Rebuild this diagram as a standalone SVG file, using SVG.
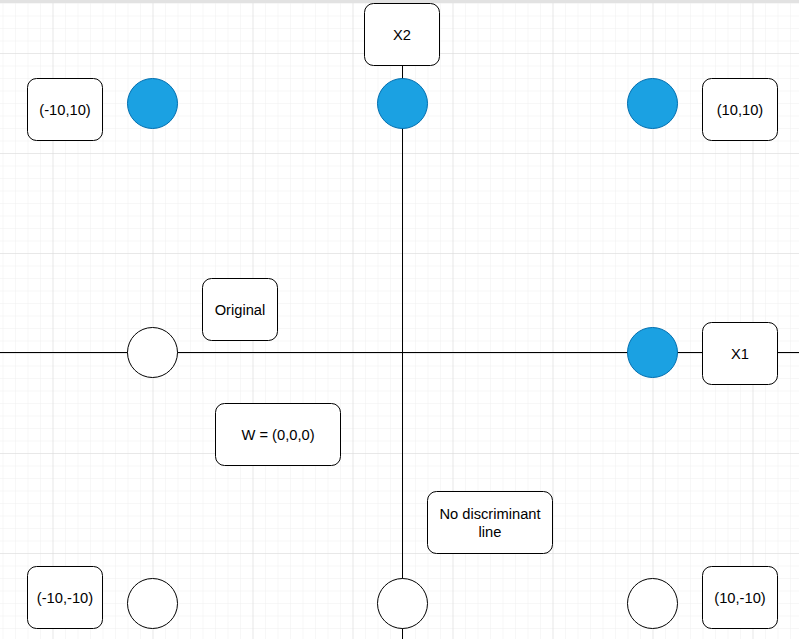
<svg xmlns="http://www.w3.org/2000/svg" width="799" height="639" viewBox="0 0 799 639">
<defs>
<pattern id="minor" x="2.5" y="3" width="12.5" height="12.5" patternUnits="userSpaceOnUse">
<path d="M0 0H12.5M0 0V12.5" fill="none" stroke="#efefef" stroke-width="1"/>
</pattern>
<pattern id="major" x="52.5" y="53" width="100" height="100" patternUnits="userSpaceOnUse">
<path d="M0 0H100M0 0V100" fill="none" stroke="#dadada" stroke-width="1"/>
</pattern>
</defs>
<style>
.box{fill:#ffffff;stroke:#000000;stroke-width:1}
.blue{fill:#1ba1e2;stroke:#006eaf;stroke-width:1}
.white{fill:#ffffff;stroke:#000000;stroke-width:1}
.axis{stroke:#000000;stroke-width:1;fill:none}
text{font-family:"Liberation Sans",Arial,Helvetica,sans-serif;font-size:14.7px;fill:#000000;text-anchor:middle;dominant-baseline:central}
</style>
<rect width="799" height="639" fill="#ffffff"/>
<rect width="799" height="639" fill="url(#minor)"/>
<rect width="799" height="639" fill="url(#major)"/>
<rect x="0" y="0" width="799" height="3" fill="#e2e2e2"/>
<g id="connectors">
<line class="axis" x1="0" y1="352.5" x2="799" y2="352.5"/>
<line class="axis" x1="402.5" y1="65.5" x2="402.5" y2="639"/>
</g>
<g id="x2"><rect class="box" x="364.5" y="3.5" width="75" height="62" rx="9"/><text x="402" y="34.5">X2</text></g>
<g id="x1"><rect class="box" x="702.5" y="322.5" width="75" height="62" rx="9"/><text x="740" y="353.5">X1</text></g>
<g id="lbl-m10-10"><rect class="box" x="27.5" y="78.5" width="75" height="62" rx="9"/><text x="65" y="109.5">(-10,10)</text></g>
<g id="lbl-10-10"><rect class="box" x="702.5" y="78.5" width="75" height="62" rx="9"/><text x="740" y="109.5">(10,10)</text></g>
<g id="lbl-m10-m10"><rect class="box" x="27.5" y="566.5" width="75" height="62" rx="9"/><text x="65" y="597.5">(-10,-10)</text></g>
<g id="lbl-10-m10"><rect class="box" x="702.5" y="566.5" width="75" height="62" rx="9"/><text x="740" y="597.5">(10,-10)</text></g>
<g id="original"><rect class="box" x="202.5" y="278.5" width="75" height="62" rx="9"/><text x="240" y="309.5">Original</text></g>
<g id="weights"><rect class="box" x="215.5" y="403.5" width="125" height="62" rx="9"/><text x="278" y="434.5">W = (0,0,0)</text></g>
<g id="nodisc"><rect class="box" x="427.5" y="491.5" width="125" height="62" rx="9"/><text x="490" y="513.5">No discriminant</text><text x="490" y="531.5">line</text></g>
<g id="p1"><circle class="blue" cx="152.5" cy="103.5" r="25"/></g>
<g id="p2"><circle class="blue" cx="402.5" cy="103.5" r="25"/></g>
<g id="p3"><circle class="blue" cx="652.5" cy="103.5" r="25"/></g>
<g id="p4"><circle class="white" cx="152.5" cy="352.5" r="25"/></g>
<g id="p5"><circle class="blue" cx="652.5" cy="352.5" r="25"/></g>
<g id="p6"><circle class="white" cx="152.5" cy="603.5" r="25"/></g>
<g id="p7"><circle class="white" cx="402.5" cy="603.5" r="25"/></g>
<g id="p8"><circle class="white" cx="652.5" cy="603.5" r="25"/></g>
</svg>
